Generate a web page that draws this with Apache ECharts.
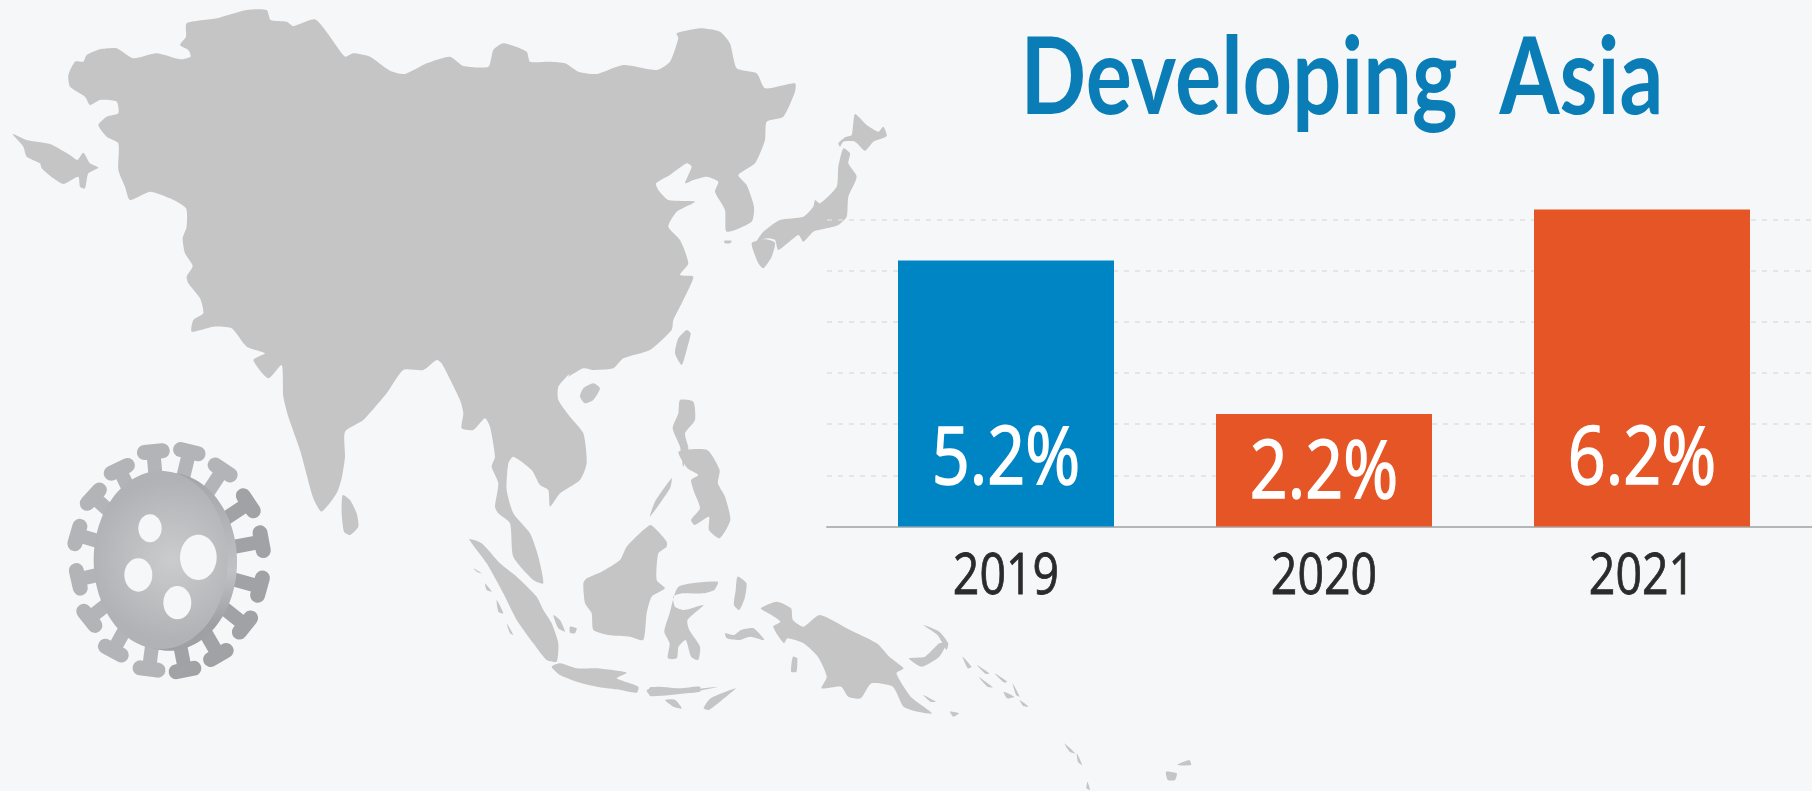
<!DOCTYPE html>
<html>
<head>
<meta charset="utf-8">
<style>html,body{margin:0;padding:0;background:#F6F7F9}#c{width:1812px;height:791px}</style>
<script src="https://cdn.jsdelivr.net/npm/echarts@6/dist/echarts.min.js"></script>
</head>
<body>
<div id="c"></div>
<script>
// ---- chart data ----
var titleText = 'Developing  Asia';
var years = ['2019', '2020', '2021'];
var growth = [5.2, 2.2, 6.2];
var barColors = ['#0085C4', '#E65525', '#E65525'];
var labelLift = [65.5, 51.5, 65.5];

// ---- decorative map outline, traced in crop coordinates: [originX, originY, scaleX, scaleY]
var Z3 = [0, 0, 3, 3], Z4 = [450, 0, 3, 3], Z5 = [250, 350, 3, 3], Z6 = [650, 450, 2.8, 3];
function tr(z, p) { var o = []; for (var i = 0; i < p.length; i += 2) o.push([z[0] + p[i] / z[2], z[1] + p[i + 1] / z[3]]); return o; }

var mainland = [].concat(
  tr(Z3, [205,225,225,185,250,185,260,165,300,148,350,145,400,175,470,160,540,178,572,170,565,150,540,135,558,110,560,70,650,55,740,30,800,30,812,60,860,65,880,78,945,58,990,110,1035,170,1060,160,1110,170,1170,212,1215,222,1280,190,1350,170]),
  tr(Z4, [40,198,115,200,130,150,160,130,230,155,240,185,300,185,345,190,385,215,440,222,520,195,620,210,660,185,685,115,680,100,750,85,810,95,840,130,860,205,920,220,945,265,1035,250,1035,275,1000,350,950,365,945,420,915,490,865,525,890,555,912,620,905,665,830,695,825,630,795,575,805,545,770,530,730,540,705,550,725,500,710,490,660,525,618,550,625,570,655,600,735,605,680,635,655,680,690,720,715,790,690,825,730,830,700,900,670,960,665,990,600,1050,520,1075,490,1105,430,1110,400,1105,355,1130]),
  tr(Z5, [960,70,925,110,925,150,960,200,1000,250,1010,340,990,390,930,430,900,470,895,420,870,405,845,360,790,320,775,340,770,420,790,490,840,550,865,620,880,700,850,690,790,620,780,520,745,490,735,470,745,400,725,350,735,320,720,230,705,205,670,240,635,235,640,190,630,150,575,40,560,30,520,60,460,60,410,130,340,210,285,245,285,320,275,385,260,430,215,485,190,445,150,300,115,200,100,140]),
  tr(Z3, [845,1095,805,1135,760,1080,795,1060,740,1040,695,985,640,980,575,995,580,960,610,940,600,895,565,850,560,830,578,798,555,760,548,715,560,680,558,625,510,595,450,575,390,600,375,560,355,510,355,430,320,410,295,375,320,350,355,340,350,305,300,300,270,315,255,290,210,260])
);
var islands = [
  tr(Z3, [38,402,80,420,150,432,210,465,232,480,250,458,270,490,295,503,265,520,255,565,240,560,235,530,190,552,160,535,125,505,120,490,80,470,70,440]),
  tr(Z4, [1215,342,1250,375,1285,395,1300,380,1310,408,1270,425,1245,452,1215,425,1180,425,1170,440,1165,430,1185,412,1205,405]),
  tr(Z4, [1180,445,1200,460,1195,490,1220,530,1195,590,1190,650,1165,675,1130,685,1090,695,1060,725,1045,705,985,750,975,720,950,715,920,725,940,695,990,660,1060,650,1090,620,1095,600,1110,610,1160,560,1165,500]),
  tr(Z4, [905,730,945,718,975,728,965,770,940,805,925,790]),
  tr(Z4, [822,722,845,722,840,730,825,730]),
  tr(Z4, [710,990,722,1000,710,1050,695,1095,675,1060,685,1015]),
  tr(Z5, [1030,100,1050,115,1030,150,1005,160,990,140,1000,115]),
  tr(Z5, [278,435,300,450,320,490,325,530,300,555,282,545,275,490]),
  tr(Z5, [1290,150,1330,155,1335,210,1305,250,1315,295,1300,350,1290,290,1268,235,1285,190]),
  tr(Z6, [80,5,160,0,195,60,190,100,210,140,225,210,195,265,165,240,165,200,125,225,115,210,140,175,125,130,115,90,135,75,105,55]),
  tr(Z5, [1265,385,1260,415,1200,500,1215,455]),
  tr(Z5, [1200,525,1225,545,1250,575,1250,590,1225,610,1220,690,1245,715,1205,740,1190,790,1180,870,1140,860,1075,855,1030,840,1025,790,1005,760,1000,700,1010,685,1055,665,1110,630,1130,590]),
  tr(Z5, [658,568,695,580,750,640,800,680,860,740,880,780,905,820,925,880,920,935,890,930,850,880,800,810,760,730,710,640]),
  tr(Z5, [905,950,930,940,980,955,1040,955,1130,968,1100,985,1165,1010,1160,1028,1100,1018,1040,1010,980,995,930,975]),
  tr(Z5, [1190,1020,1220,1010,1290,1015,1350,1010,1350,1025,1290,1030,1200,1035]),
  tr(Z5, [1245,1050,1275,1050,1295,1075,1270,1070]),
  tr(Z5, [910,795,930,810,945,845,925,835]),
  tr(Z5, [960,830,980,835,975,850,960,848]),
  tr(Z5, [670,655,695,670,680,665]),
  tr(Z5, [705,700,725,725,710,720]),
  tr(Z5, [740,750,760,790,745,785]),
  tr(Z5, [770,820,790,855,780,850]),
  tr(Z6, [80,410,190,395,180,420,150,430,90,430,65,440,70,470,95,480,150,465,105,510,110,540,140,590,135,630,115,620,100,570,80,590,75,625,50,625,55,580,40,545,55,490]),
  tr(Z6, [245,380,270,400,265,445,250,480,235,465,240,420]),
  tr(Z6, [210,550,235,555,255,540,290,535,320,570,280,560,250,570,215,565]),
  tr(Z6, [310,475,355,455,395,475,400,510,430,530,475,495,560,540,635,580,670,620,710,655,690,670,730,740,790,790,750,785,710,770,680,710,620,700,590,745,555,740,535,710,480,715,495,680,470,620,430,580,385,565,375,580,345,530,365,515,340,495]),
  tr(Z6, [400,620,412,625,410,665,395,665]),
  tr(Z6, [725,625,770,620,810,580,830,580,810,620,760,650]),
  tr(Z6, [765,525,810,545,835,580,830,600,805,555]),
  tr(Z6, [875,620,900,650,890,655]),
  tr(Z6, [915,645,950,670,940,672]),
  tr(Z6, [965,670,1000,695,990,697]),
  tr(Z6, [920,680,960,712,945,710]),
  tr(Z6, [1015,700,1035,740,1025,735]),
  tr(Z6, [990,725,1020,740,1000,745]),
  tr(Z6, [1035,750,1060,770,1045,768]),
  tr(Z6, [765,735,800,755,785,755]),
  tr(Z6, [840,785,865,790,850,800]),
  tr(Z6, [1160,880,1190,910,1175,905]),
  tr(Z6, [1195,910,1210,945,1198,935]),
  tr(Z6, [1225,995,1232,1020,1222,1015]),
  tr(Z6, [1445,965,1475,970,1470,990,1450,990]),
  tr(Z6, [1475,945,1510,930,1515,945]),
  tr(Z6, [150,775,170,745,240,715,225,730,165,780]),
  tr(Z6, [0,712,60,715,100,720,190,710,100,730,0,738]),
  tr(Z6, [45,750,70,750,88,775,70,770])
];

// ---- decorative virus icon (crop origin 0,400 at 3x) ----
var spikeHeads = [[460,155],[568,155],[668,210],[745,310],[785,425],[780,560],[735,675],[655,765],[555,810],[447,807],[340,752],[268,655],[235,538],[232,405],[280,290],[358,208]];
var darkSpikes = [3,4,5,6,7,8];
var virusHoles = [[450,385,35,42],[595,472,55,68],[415,525,42,50],[532,608,42,50]];
function vx(x) { return x / 3; }
function vy(y) { return 400 + y / 3; }

var BG = '#F6F7F9', MAPC = '#C5C5C6';
var els = [];
els.push({ type: 'rect', shape: { x: 824, y: 214, width: 28, height: 12 }, style: { fill: BG } });
els.push({ type: 'polygon', shape: { points: mainland, smooth: 0.2 }, style: { fill: MAPC } });
islands.forEach(function (p) { els.push({ type: 'polygon', shape: { points: p, smooth: 0.2 }, style: { fill: MAPC } }); });

var cx = vx(490), cy = vy(480);
spikeHeads.forEach(function (h, i) {
  var col = darkSpikes.indexOf(i) >= 0 ? '#A0A2A6' : '#B3B4B7';
  var hx = vx(h[0]), hy = vy(h[1]);
  var dx = hx - cx, dy = hy - cy, len = Math.sqrt(dx * dx + dy * dy);
  var ux = dx / len, uy = dy / len;
  els.push({ type: 'line', shape: { x1: hx, y1: hy, x2: cx + ux * len * 0.6, y2: cy + uy * len * 0.6 }, style: { stroke: col, lineWidth: 14 } });
  els.push({ type: 'line', shape: { x1: hx - uy * 9, y1: hy + ux * 9, x2: hx + uy * 9, y2: hy - ux * 9 }, style: { stroke: col, lineWidth: 15, lineCap: 'round' } });
});
els.push({ type: 'ellipse', shape: { cx: vx(507), cy: vy(485), rx: 68, ry: 89 }, style: { fill: new echarts.graphic.LinearGradient(0, 0, 0, 1, [{ offset: 0, color: '#A2A4A8' }, { offset: 0.55, color: '#C0C1C4' }, { offset: 0.85, color: '#9EA0A4' }]) } });
els.push({ type: 'ellipse', shape: { cx: vx(482), cy: vy(480), rx: 67, ry: 89 }, style: { fill: new echarts.graphic.RadialGradient(0.58, 0.5, 0.6, [{ offset: 0, color: '#CBCCCE' }, { offset: 1, color: '#B1B2B5' }]) } });
virusHoles.forEach(function (v) {
  els.push({ type: 'ellipse', shape: { cx: vx(v[0]), cy: vy(v[1]), rx: v[2] / 3, ry: v[3] / 3 }, style: { fill: BG } });
});

// Title: the reference lettering is horizontally squeezed
els.push({ type: 'text', x: 1342, y: 79, scaleX: 0.80,
  style: { text: titleText, align: 'center', verticalAlign: 'middle', fill: '#0A7DB6', fontFamily: 'Lato', fontWeight: 'bold', fontSize: 108 } });

var FONT = '"Open Sans"', SQUEEZE = 0.83;
var gridTop = 168.5, gridHeight = 358;

var chart = echarts.init(document.getElementById('c'), null, { renderer: 'canvas', width: 1812, height: 791 });
chart.setOption({
  animation: false,
  backgroundColor: BG,
  graphic: { z: 10, elements: els },
  grid: [
    { left: 827, width: 985, top: gridTop, height: gridHeight },
    { left: 847, width: 954, top: gridTop, height: gridHeight }
  ],
  xAxis: [
    { gridIndex: 0, type: 'category', data: [], axisTick: { show: false }, axisLabel: { show: false },
      axisLine: { show: true, lineStyle: { color: '#B4B6B9', width: 2 } } },
    { gridIndex: 1, type: 'category', data: years, axisTick: { show: false }, axisLine: { show: false }, axisLabel: { show: false } }
  ],
  yAxis: [
    { gridIndex: 0, type: 'value', min: 0, max: 7, interval: 1, axisLabel: { show: false }, axisLine: { show: false }, axisTick: { show: false },
      splitLine: { show: true, showMaxLine: false, showMinLine: false, lineStyle: { color: '#DDDFE2', width: 1.5, type: [5, 6] } } },
    { gridIndex: 1, type: 'value', min: 0, max: 7, interval: 1, show: false, splitLine: { show: false } }
  ],
  series: [{
    type: 'bar', xAxisIndex: 1, yAxisIndex: 1, barWidth: 216, z: 3,
    data: growth.map(function (v, i) { return { value: v, itemStyle: { color: barColors[i] } }; })
  }, {
    // squeezed year and value labels, positioned through the axes
    type: 'custom', xAxisIndex: 1, yAxisIndex: 1, z: 5, clip: false, silent: true,
    data: growth.map(function (v, i) { return [i, v]; }),
    renderItem: function (params, api) {
      var i = api.value(0), v = api.value(1), base = api.coord([i, 0]);
      return { type: 'group', children: [
        { type: 'text', x: base[0], y: base[1] - labelLift[i], scaleX: SQUEEZE,
          style: { text: v.toFixed(1) + '%', align: 'center', verticalAlign: 'middle', fill: '#FFFFFF', stroke: '#FFFFFF', lineWidth: 1.6, fontFamily: FONT, fontSize: 80 } },
        { type: 'text', x: base[0], y: base[1] + 52, scaleX: SQUEEZE,
          style: { text: years[i], align: 'center', verticalAlign: 'middle', fill: '#2B2B2B', stroke: '#2B2B2B', lineWidth: 0.8, fontFamily: FONT, fontSize: 56 } }
      ] };
    }
  }]
});
</script>
</body>
</html>
